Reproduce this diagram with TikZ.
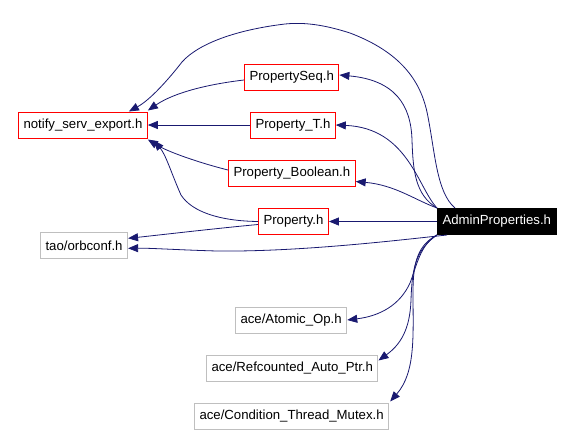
\documentclass[tikz,border=0pt]{standalone}
\usepackage{fontspec}
\setmainfont{Liberation Sans}
\usetikzlibrary{arrows.meta}
\definecolor{edgeblue}{HTML}{191970}
\definecolor{boxred}{HTML}{FF0000}
\definecolor{boxgray}{HTML}{BFBFBF}
\begin{document}
\begin{tikzpicture}[x=1pt,y=-1pt,
  every node/.style={font=\fontsize{13.2}{15}\selectfont, inner xsep=5pt, inner ysep=0pt, minimum height=26pt, line width=1pt, anchor=west},
  redbox/.style={draw=boxred, fill=white, text=black},
  graybox/.style={draw=boxgray, fill=white, text=black},
  rootbox/.style={draw=black, fill=black, text=white},
  dep/.style={draw=edgeblue, line width=0.8pt, -{Triangle[length=10pt,width=8pt]}, fill=none}
]
\useasboundingbox (0,0) rectangle (574,434);
\node[redbox] (notify) at (18,125) {notify\_serv\_export.h};
\node[redbox] (pseq) at (244,77) {PropertySeq.h};
\node[redbox] (pt) at (250,125) {Property\_T.h};
\node[redbox] (pbool) at (228,173) {Property\_Boolean.h};
\node[redbox] (prop) at (258,221.5) {Property.h};
\node[graybox] (tao) at (40,245.3) {tao/orbconf.h};
\node[rootbox] (admin) at (437,221.5) {AdminProperties.h};
\node[graybox] (atomic) at (235,320) {ace/Atomic\_Op.h};
\node[graybox] (refc) at (206,368) {ace/Refcounted\_Auto\_Ptr.h};
\node[graybox] (cond) at (194,416) {ace/Condition\_Thread\_Mutex.h};

% admin -> notify (over the top)
\draw[dep] ([xshift=18pt]admin.north west) .. controls (436,192) and (435,150) .. (427,112)
  .. controls (420,80) and (400,52) .. (350,33)
  .. controls (325,25) and (305,22) .. (285,24)
  .. controls (235,30) and (198,44) .. (182,62)
  .. controls (168,80) and (150,100) .. ([xshift=-19pt]notify.north east);
% admin -> PropertySeq
\draw[dep] (admin.north west) .. controls (415,195) and (413,170) .. (412,140)
  .. controls (411,105) and (395,80) .. ([yshift=2pt]pseq.east);
% admin -> Property_T
\draw[dep] (admin.north west) .. controls (418,188) and (408,128) .. (pt.east);
% admin -> Property_Boolean
\draw[dep] (admin.north west) .. controls (415,200) and (395,185) .. ([yshift=5pt]pbool.south east);
% admin -> Property
\draw[dep] (admin.west) -- (prop.east);
% admin -> tao
\draw[dep] ([xshift=10pt]admin.south west) .. controls (400,240) and (300,252) .. (217,251)
  .. controls (180,250) and (150,248) .. ([yshift=-3pt]tao.east);
% Property -> tao
\draw[dep] ([yshift=-3pt]prop.west) .. controls (210,229) and (160,235) .. ([yshift=7pt]tao.east);
% PropertySeq -> notify
\draw[dep] ([yshift=-3pt]pseq.west) .. controls (210,84) and (175,92) .. ([yshift=1pt]notify.north east);
% Property_T -> notify
\draw[dep] (pt.west) -- (notify.east);
% Property_Boolean -> notify
\draw[dep] ([yshift=3pt]pbool.west) .. controls (200,163) and (168,152) .. ([yshift=-1pt]notify.south east);
% Property -> notify
\draw[dep] (prop.west) .. controls (220,221) and (192,212) .. (181,195)
  .. controls (172,175) and (166,155) .. ([xshift=6pt,yshift=-2pt]notify.south east);
% admin -> Atomic_Op
\draw[dep] (admin.south west) .. controls (420,245) and (417,265) .. (410,283)
  .. controls (400,305) and (380,316) .. (atomic.east);
% admin -> Refcounted
\draw[dep] (admin.south west) .. controls (415,250) and (412,270) .. (411,300)
  .. controls (410,330) and (400,345) .. ([yshift=-6pt]refc.north east);
% admin -> Condition
\draw[dep] (admin.south west) .. controls (418,245) and (413,262) .. (413,292)
  .. controls (413,335) and (416,372) .. ([xshift=1pt,yshift=1pt]cond.north east);
\end{tikzpicture}
\end{document}
